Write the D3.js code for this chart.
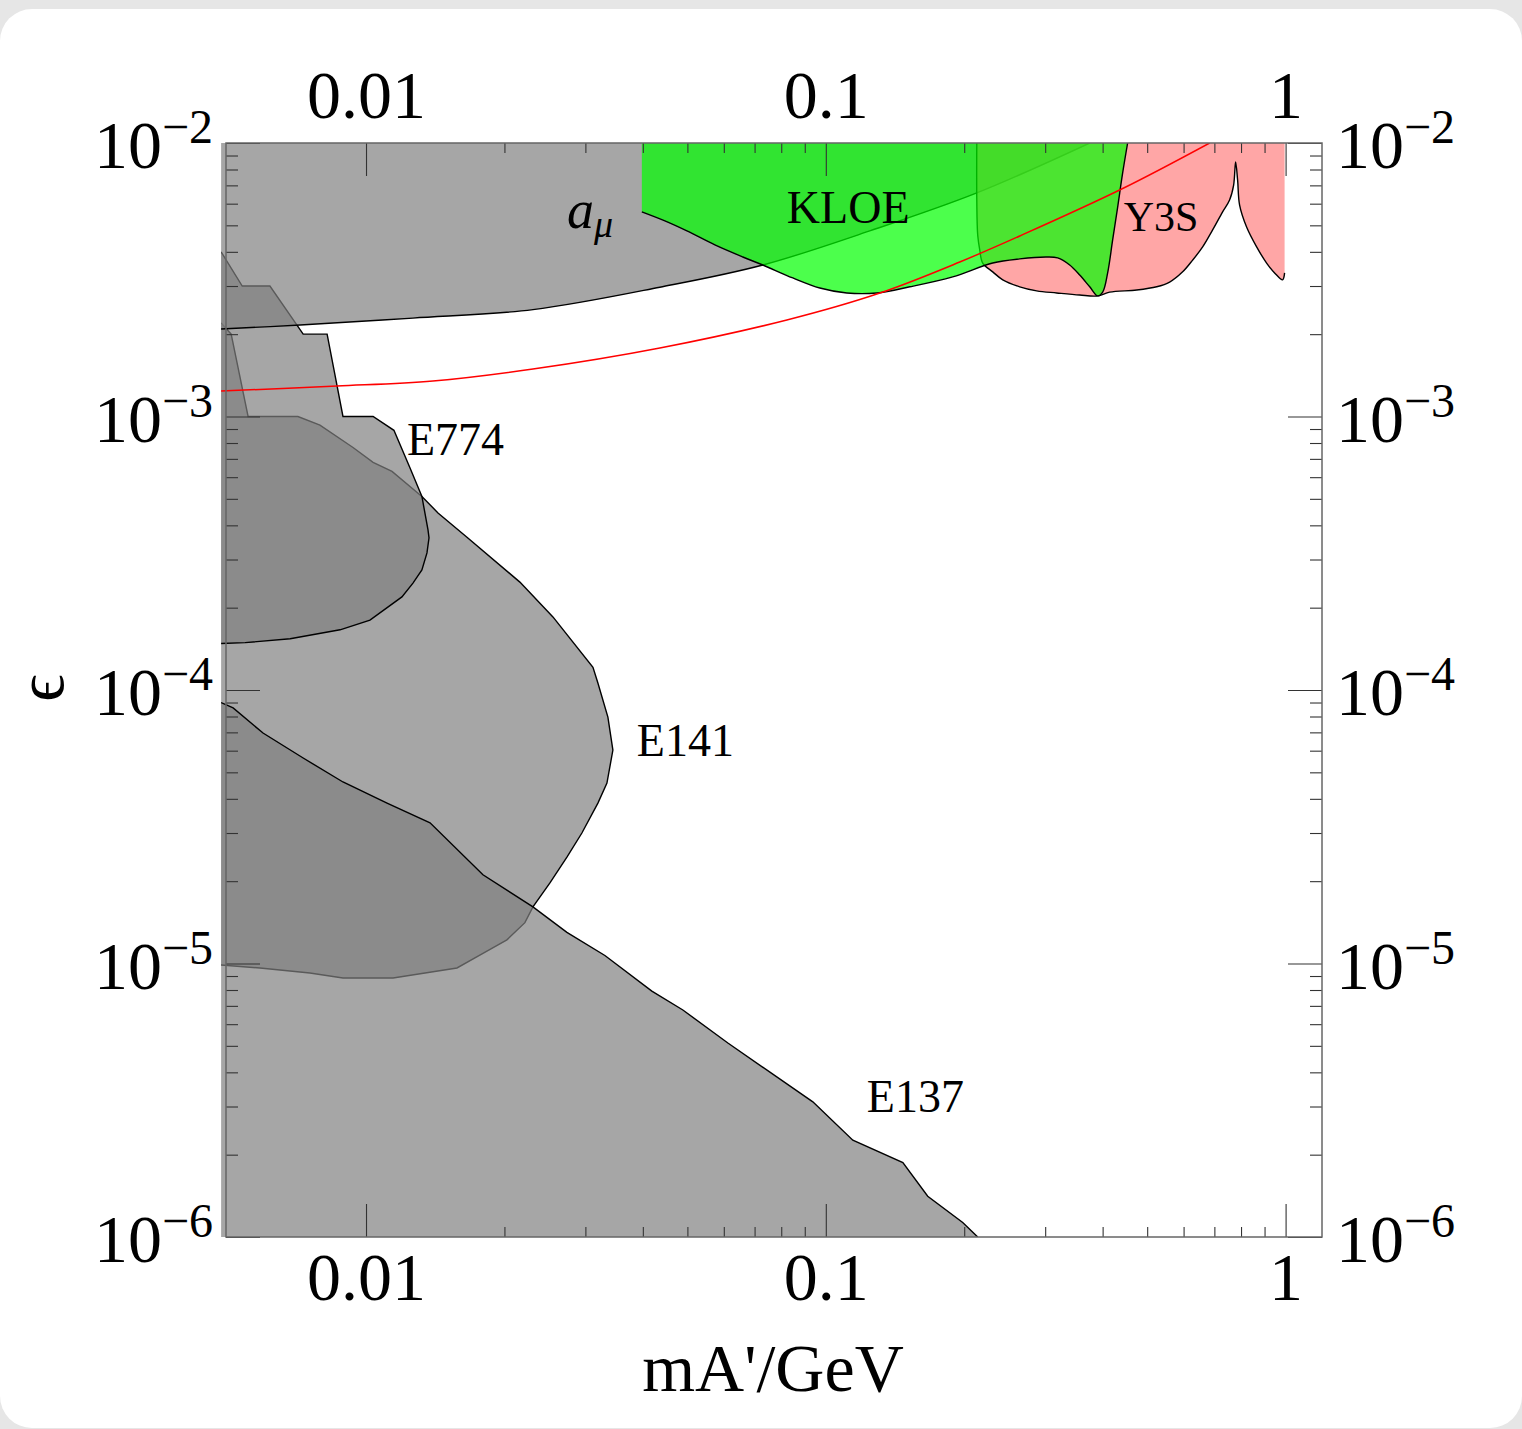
<!DOCTYPE html>
<html>
<head>
<meta charset="utf-8">
<script src="https://cdn.jsdelivr.net/npm/d3@7"></script>
<style>
  body { margin: 0; background: #e6e6e6; }
</style>
</head>
<body>
<div id="chart"></div>
<script>
// ---- data: [mass in GeV, epsilon] ----
const xEdge = 0.00484; // left end of the filled regions

const amuBound = [
  [xEdge, 2.09e-3], [0.00719, 2.16e-3], [0.01265, 2.29e-3], [0.02307, 2.46e-3],
  [0.04356, 2.97e-3], [0.07295, 3.58e-3], [0.1246, 4.77e-3], [0.213, 6.57e-3], [0.375, 1e-2]
];

const e774Bound = [
  [xEdge, 4.0e-3], [0.00538, 3.0e-3], [0.00618, 3.0e-3], [0.0073, 2.0e-3], [0.00823, 2.0e-3],
  [0.00891, 1.0e-3], [0.01036, 1.0e-3], [0.0115, 8.9e-4], [0.01246, 6.5e-4], [0.01323, 5.1e-4],
  [0.01364, 3.85e-4], [0.01371, 3.6e-4], [0.01357, 3.17e-4], [0.01323, 2.75e-4], [0.01265, 2.46e-4],
  [0.01197, 2.19e-4], [0.0102, 1.8e-4], [0.00878, 1.66e-4], [0.00684, 1.54e-4], [0.00546, 1.49e-4],
  [xEdge, 1.48e-4]
];

const e141Bound = [
  [xEdge, 2.2e-3], [0.00509, 2.0e-3], [0.00554, 1.0e-3], [0.00711, 1.0e-3], [0.00794, 9.3e-4],
  [0.00937, 7.7e-4], [0.01036, 6.8e-4], [0.01139, 6.3e-4], [0.01323, 5.1e-4], [0.01434, 4.44e-4],
  [0.01658, 3.62e-4], [0.02161, 2.48e-4], [0.0255, 1.85e-4], [0.03116, 1.21e-4], [0.03194, 1.06e-4],
  [0.03358, 7.96e-5], [0.03443, 6.03e-5], [0.03342, 4.57e-5], [0.03194, 3.86e-5], [0.02948, 3.0e-5],
  [0.02735, 2.45e-5], [0.02512, 1.97e-5], [0.02307, 1.61e-5], [0.02216, 1.41e-5], [0.02025, 1.22e-5],
  [0.01796, 1.09e-5], [0.01577, 9.63e-6], [0.01145, 8.85e-6], [0.00891, 8.85e-6], [0.00755, 9.23e-6],
  [0.00588, 9.63e-6], [xEdge, 9.87e-6]
];

const e137Bound = [
  [xEdge, 9.0e-5], [0.00514, 8.6e-5], [0.00597, 6.96e-5], [0.0073, 5.64e-5], [0.00891, 4.61e-5],
  [0.01111, 3.86e-5], [0.01378, 3.27e-5], [0.01796, 2.11e-5], [0.02307, 1.61e-5], [0.02735, 1.3e-5],
  [0.03308, 1.07e-5], [0.04185, 7.93e-6], [0.04888, 6.76e-6], [0.06124, 5.12e-6], [0.09371, 3.12e-6],
  [0.1145, 2.26e-6], [0.1471, 1.87e-6], [0.1666, 1.41e-6], [0.1985, 1.13e-6], [0.214, 1.0e-6]
];

const kloeBound = [
  [0.0398, 5.6e-3], [0.04467, 5.19e-3], [0.04988, 4.77e-3], [0.05738, 4.24e-3], [0.066, 3.83e-3],
  [0.07295, 3.58e-3], [0.08478, 3.21e-3], [0.09705, 2.95e-3], [0.1111, 2.83e-3], [0.1291, 2.83e-3],
  [0.1523, 2.98e-3], [0.1888, 3.24e-3], [0.2307, 3.64e-3], [0.2641, 3.77e-3], [0.3023, 3.83e-3],
  [0.3194, 3.8e-3], [0.3392, 3.58e-3], [0.3566, 3.29e-3], [0.375, 2.98e-3], [0.3902, 2.76e-3],
  [0.4001, 2.85e-3], [0.4102, 3.35e-3], [0.4206, 4.42e-3], [0.4313, 5.83e-3], [0.4422, 7.77e-3],
  [0.4534, 1e-2]
];

const y3sBound = [
  [0.213, 1e-2], [0.213, 6.2e-3], [0.214, 4.6e-3], [0.2162, 4.06e-3], [0.2194, 3.64e-3],
  [0.2307, 3.38e-3], [0.2426, 3.16e-3], [0.2641, 2.98e-3], [0.2875, 2.88e-3], [0.3178, 2.83e-3],
  [0.3566, 2.78e-3], [0.3902, 2.76e-3], [0.4143, 2.85e-3], [0.4745, 2.9e-3], [0.5245, 2.98e-3],
  [0.5595, 3.1e-3], [0.5972, 3.38e-3], [0.6278, 3.73e-3], [0.6601, 4.17e-3], [0.6939, 4.81e-3],
  [0.7295, 5.6e-3], [0.7554, 6.19e-3], [0.7709, 7.02e-3], [0.7786, 8.52e-3], [0.7864, 7.32e-3],
  [0.7943, 5.93e-3], [0.8226, 4.93e-3], [0.865, 4.17e-3], [0.9093, 3.64e-3], [0.9465, 3.35e-3],
  [0.9851, 3.16e-3], [0.995, 3.35e-3]
];

const redCurve = [
  [xEdge, 1.239e-3], [0.00865, 1.292e-3], [0.01398, 1.348e-3], [0.02307, 1.491e-3],
  [0.04356, 1.78e-3], [0.08228, 2.254e-3], [0.1311, 2.828e-3], [0.1956, 3.672e-3],
  [0.2641, 4.571e-3], [0.44, 6.788e-3], [0.6836, 1e-2]
];

// ticks
const xMajor = [0.01, 0.1, 1];
const xTickLabels = ["0.01", "0.1", "1"];
const yMajor = [1e-2, 1e-3, 1e-4, 1e-5, 1e-6];
const yTickExps = ["\u22122", "\u22123", "\u22124", "\u22125", "\u22126"];

// ---- layout ----
const W = 1522, H = 1429;
const serif = "'Liberation Serif', 'Times New Roman', 'DejaVu Serif', serif";

const x = d3.scaleLog().domain([0.00496, 1.2]).range([226, 1322]);
const y = d3.scaleLog().domain([1e-6, 1e-2]).range([1237, 143]);
const yMin = 1e-6, yMax = 1e-2;

const xMinor = [];
[0.01, 0.1].forEach(d => { for (let k = 2; k <= 9; k++) xMinor.push(k * d); });
const yMinor = [];
[1e-6, 1e-5, 1e-4, 1e-3].forEach(d => { for (let k = 2; k <= 9; k++) yMinor.push(k * d); });

const svg = d3.select("#chart").append("svg")
  .attr("width", W).attr("height", H);

// background card
svg.append("rect").attr("width", W).attr("height", H).attr("fill", "#e6e6e6");
svg.append("rect").attr("x", 0).attr("y", 9).attr("width", W).attr("height", H - 10)
  .attr("rx", 32).attr("fill", "#ffffff");

svg.append("defs").append("clipPath").attr("id", "plotClip")
  .append("rect")
  .attr("x", x(xEdge)).attr("y", y(yMax))
  .attr("width", x.range()[1] - x(xEdge))
  .attr("height", y(yMin) - y(yMax));

const plot = svg.append("g").attr("clip-path", "url(#plotClip)");

const lineLin = d3.line().x(d => x(d[0])).y(d => y(d[1]));
const lineCR = d3.line().x(d => x(d[0])).y(d => y(d[1])).curve(d3.curveCatmullRom.alpha(0.5));

// fill path = boundary + straight closing corners
function regionPath(gen, bound, corners) {
  let p = gen(bound);
  corners.forEach(c => { p += "L" + x(c[0]) + "," + y(c[1]); });
  return p + "Z";
}

function drawRegion(gen, bound, corners, fill) {
  plot.append("path")
    .attr("d", regionPath(gen, bound, corners))
    .attr("fill", fill).attr("fill-opacity", 0.7).attr("stroke", "none");
  plot.append("path")
    .attr("d", gen(bound))
    .attr("fill", "none").attr("stroke", "#000").attr("stroke-width", 1.4);
}

// beam dumps
drawRegion(lineLin, e141Bound, [], "#808080");
drawRegion(lineLin, e774Bound, [], "#808080");
drawRegion(lineLin, e137Bound, [[xEdge, yMin]], "#808080");
// muon g-2
drawRegion(lineCR, amuBound, [[xEdge, yMax]], "#808080");
// BaBar Y3S
drawRegion(lineCR, y3sBound, [[0.995, yMax]], "#ff8080");
// KLOE
drawRegion(lineCR, kloeBound, [[0.4534, yMax], [0.0398, yMax]], "#00ff00");

// red curve
plot.append("path")
  .attr("d", lineCR(redCurve))
  .attr("fill", "none").attr("stroke", "#ff0000").attr("stroke-width", 1.5);

// ---- axes ----
function styleAxis(g) {
  g.select(".domain").remove();
  g.selectAll(".tick line").attr("stroke", "#333").attr("stroke-width", 1.1);
  g.attr("font-family", serif).attr("font-size", 68);
  g.selectAll(".tick text").attr("fill", "#000");
}

const xb = y(yMin), xt = y(yMax), yl = x.range()[0], yr = x.range()[1];

svg.append("g").attr("transform", `translate(0,${xb})`)
  .call(d3.axisBottom(x).tickValues(xMajor).tickSize(-33).tickPadding(15)
    .tickFormat((d, i) => xTickLabels[i]))
  .call(styleAxis);
svg.append("g").attr("transform", `translate(0,${xb})`)
  .call(d3.axisBottom(x).tickValues(xMinor).tickSize(-10).tickFormat(""))
  .call(styleAxis);
svg.append("g").attr("transform", `translate(0,${xt})`)
  .call(d3.axisTop(x).tickValues(xMajor).tickSize(-33).tickPadding(25)
    .tickFormat((d, i) => xTickLabels[i]))
  .call(styleAxis);
svg.append("g").attr("transform", `translate(0,${xt})`)
  .call(d3.axisTop(x).tickValues(xMinor).tickSize(-10).tickFormat(""))
  .call(styleAxis);

svg.append("g").attr("transform", `translate(${yl},0)`)
  .call(d3.axisLeft(y).tickValues(yMajor).tickSize(-34).tickFormat(""))
  .call(styleAxis);
svg.append("g").attr("transform", `translate(${yl},0)`)
  .call(d3.axisLeft(y).tickValues(yMinor).tickSize(-12).tickFormat(""))
  .call(styleAxis);
svg.append("g").attr("transform", `translate(${yr},0)`)
  .call(d3.axisRight(y).tickValues(yMajor).tickSize(-34).tickFormat(""))
  .call(styleAxis);
svg.append("g").attr("transform", `translate(${yr},0)`)
  .call(d3.axisRight(y).tickValues(yMinor).tickSize(-12).tickFormat(""))
  .call(styleAxis);

// y tick labels as 10^n
function powLabel(xPos, anchor, v, i) {
  const t = svg.append("text")
    .attr("x", xPos).attr("y", y(v) + 25)
    .attr("text-anchor", anchor)
    .attr("font-family", serif).attr("font-size", 68).attr("fill", "#000");
  t.append("tspan").text("10");
  t.append("tspan").attr("dy", -25).attr("font-size", 48).text(yTickExps[i]);
}
yMajor.forEach((v, i) => {
  powLabel(yl - 13, "end", v, i);
  powLabel(yr + 14, "start", v, i);
});

// frame
svg.append("rect")
  .attr("x", yl).attr("y", xt).attr("width", yr - yl).attr("height", xb - xt)
  .attr("fill", "none").attr("stroke", "#666").attr("stroke-width", 1.5);

// axis titles
svg.append("text")
  .attr("x", (yl + yr) / 2 - 1).attr("y", 1391)
  .attr("text-anchor", "middle")
  .attr("font-family", serif).attr("font-size", 68).attr("fill", "#000")
  .text("mA'/GeV");
svg.append("text")
  .attr("transform", `translate(40,${y(1e-4) - 2}) rotate(-90)`)
  .attr("text-anchor", "middle").attr("dominant-baseline", "central")
  .attr("font-family", serif).attr("font-size", 68).attr("fill", "#000")
  .text("\u03f5");

// region labels
function label(m, e, txt, size) {
  return svg.append("text")
    .attr("x", x(m)).attr("y", y(e))
    .attr("font-family", serif).attr("font-size", size).attr("fill", "#000")
    .text(txt);
}
label(0.01228, 7.23e-4, "E774", 46);
label(0.03882, 5.74e-5, "E141", 46);
label(0.1228, 2.86e-6, "E137", 46);
label(0.08228, 5.1e-3, "KLOE", 46);
label(0.4444, 4.77e-3, "Y3S", 42);

const amuText = svg.append("text")
  .attr("x", x(0.02735)).attr("y", y(4.89e-3))
  .attr("font-family", serif).attr("font-size", 54).attr("font-style", "italic").attr("fill", "#000");
amuText.append("tspan").text("a");
amuText.append("tspan").attr("dy", 9).attr("font-size", 38).text("\u03bc");
</script>
</body>
</html>
